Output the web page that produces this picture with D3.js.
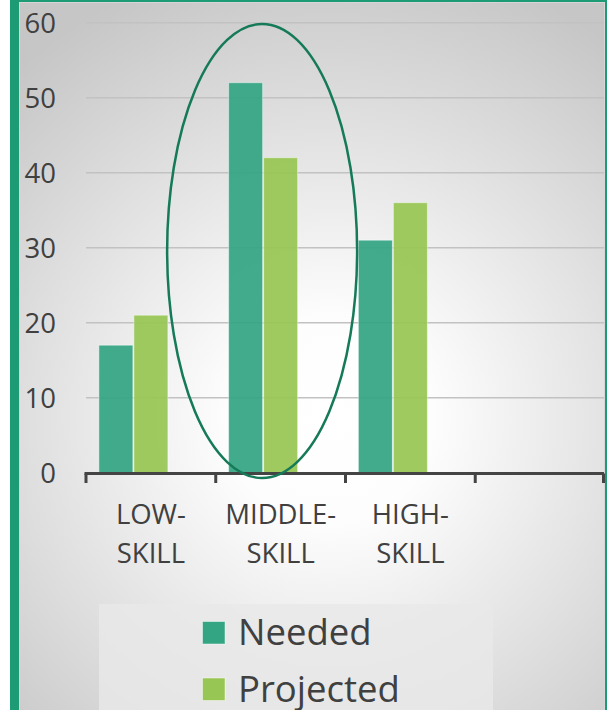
<!DOCTYPE html>
<html>
<head>
<meta charset="utf-8">
<script src="https://cdn.jsdelivr.net/npm/d3@7"></script>
<style>
  html, body { margin: 0; padding: 0; background: #ffffff; }
  svg { display: block; }
  text { font-family: "Open Sans", sans-serif; fill: #404040; }
</style>
</head>
<body>
<svg id="chart" width="607" height="710"></svg>
<script>
const categories = ["LOW-SKILL", "MIDDLE-SKILL", "HIGH-SKILL", ""];
const categoryLines = [["LOW-", "SKILL"], ["MIDDLE-", "SKILL"], ["HIGH-", "SKILL"], []];
const seriesNames = ["Needed", "Projected", ""];
const needed = [17, 52, 31, null];
const projected = [21, 42, 36, null];
const empty = [null, null, null, null];
const yTicks = [0, 10, 20, 30, 40, 50, 60];
const colors = { "Needed": "#34a582", "Projected": "#98c654", "": "none" };

const svg = d3.select("#chart");
const W = 607, H = 710;

// background gradient
const defs = svg.append("defs");
const grad = defs.append("radialGradient").attr("id", "bg")
  .attr("gradientUnits", "userSpaceOnUse")
  .attr("cx", 330).attr("cy", 420).attr("r", 470);
grad.append("stop").attr("offset", "0").attr("stop-color", "#ffffff");
grad.append("stop").attr("offset", "0.22").attr("stop-color", "#fdfdfd");
grad.append("stop").attr("offset", "1").attr("stop-color", "#c6c6c6");

svg.append("rect").attr("x", 10).attr("y", 0).attr("width", W - 10).attr("height", H).attr("fill", "#1c9b75");
svg.append("rect").attr("x", 19).attr("y", 2).attr("width", 586).attr("height", H).attr("fill", "#d6d6d6");
svg.append("rect").attr("x", 20).attr("y", 3).attr("width", 584).attr("height", H).attr("fill", "url(#bg)");

const plotLeft = 86, plotRight = 605;
const y = d3.scaleLinear().domain([0, 60]).range([472.7, 22.7]);
const x0 = d3.scaleBand().domain(categories).range([plotLeft, plotRight]).padding(0);
const bw = x0.bandwidth();
const groupPad = (bw - 105) / 2;
const x1 = d3.scaleBand().domain(seriesNames).range([groupPad, bw - groupPad]).padding(0);

// gridlines
svg.append("g").selectAll("line").data(yTicks.filter(d => d > 0)).join("line")
  .attr("x1", plotLeft).attr("x2", 604)
  .attr("y1", d => y(d)).attr("y2", d => y(d))
  .attr("stroke", "#c2c2c2").attr("stroke-width", 1.5);

// y labels
svg.append("g").selectAll("text").data(yTicks).join("text")
  .attr("x", 56).attr("y", d => y(d))
  .attr("text-anchor", "end").attr("dominant-baseline", "central")
  .attr("font-size", 27.5).text(d => d);

// bars
const seriesData = { "Needed": needed, "Projected": projected, "": empty };
const barData = [];
categories.forEach((c, i) => {
  seriesNames.forEach(s => {
    const v = seriesData[s][i];
    if (v != null) barData.push({ c, s, v });
  });
});
svg.append("g").selectAll("rect").data(barData).join("rect")
  .attr("x", d => x0(d.c) + x1(d.s) + 0.5)
  .attr("y", d => y(d.v))
  .attr("width", x1.bandwidth() - 1)
  .attr("height", d => y(0) - y(d.v))
  .attr("fill", d => colors[d.s]).attr("fill-opacity", 0.93)
  .attr("stroke", "#ffffff").attr("stroke-opacity", 0.45).attr("stroke-width", 1);

// x axis
const axisY = 473.5;
svg.append("line").attr("x1", plotLeft - 1.5).attr("x2", 604)
  .attr("y1", axisY).attr("y2", axisY).attr("stroke", "#444444").attr("stroke-width", 3);
const tickXs = categories.map(c => x0(c)).concat([plotRight - 1.5]);
svg.append("g").selectAll("line").data(tickXs).join("line")
  .attr("x1", d => d).attr("x2", d => d)
  .attr("y1", axisY).attr("y2", 483)
  .attr("stroke", "#444444").attr("stroke-width", 3);

// category labels
const labelG = svg.append("g");
categories.forEach((c, i) => {
  categoryLines[i].forEach((ln, j) => {
    labelG.append("text")
      .attr("x", x0(c) + bw / 2).attr("y", 524 + j * 39)
      .attr("text-anchor", "middle").attr("font-size", 27.5).text(ln);
  });
});

// ellipse highlight
svg.append("ellipse")
  .attr("cx", x0("MIDDLE-SKILL") + x1("Projected") - 1).attr("cy", 251)
  .attr("rx", 95).attr("ry", 227)
  .attr("fill", "none").attr("stroke", "#157a58").attr("stroke-width", 2.5);

// legend
svg.append("rect").attr("x", 99).attr("y", 604).attr("width", 394).attr("height", 110)
  .attr("fill", "#e9e9e9").attr("fill-opacity", 0.8);
const legendNames = ["Needed", "Projected"];
const lg = svg.append("g").selectAll("g").data(legendNames).join("g")
  .attr("transform", (d, i) => `translate(202,${621 + i * 56.5})`);
lg.append("rect").attr("x", 0.5).attr("y", 0.5).attr("width", 22.5).attr("height", 22.5)
  .attr("fill", d => colors[d]).attr("stroke", "#ffffff").attr("stroke-opacity", 0.45);
lg.append("text").attr("x", 36).attr("y", 24).attr("font-size", 36.5).text(d => d);
</script>
</body>
</html>
